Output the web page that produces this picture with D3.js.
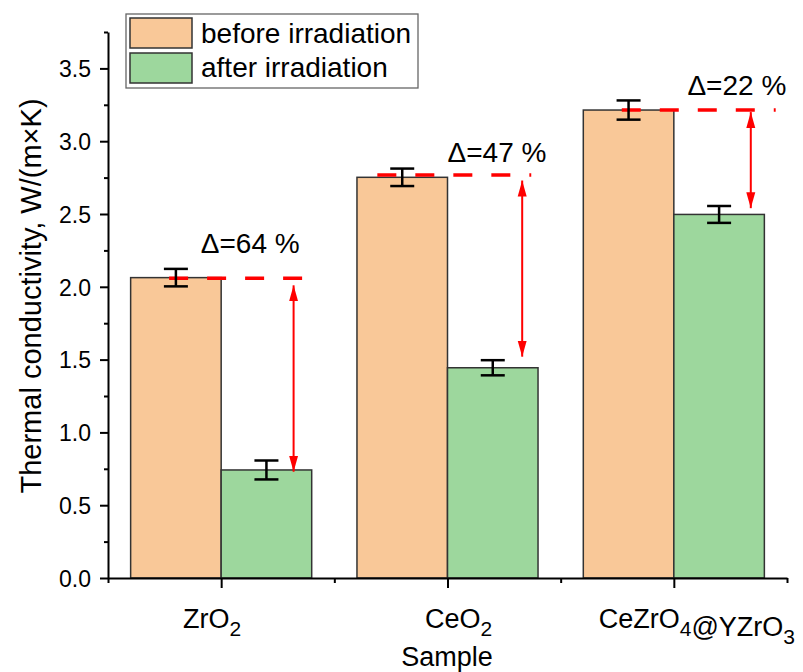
<!DOCTYPE html>
<html>
<head>
<meta charset="utf-8">
<script src="https://cdn.jsdelivr.net/npm/d3@7"></script>
<style>
body { margin: 0; background: #fff; }
svg text { font-family: "Liberation Sans", Arial, sans-serif; fill: #000; }
</style>
</head>
<body>
<svg id="chart" width="803" height="672"></svg>
<script>
// data
var categories = ['ZrO_2', 'CeO_2', 'CeZrO_4@YZrO_3'];
var seriesNames = ['before irradiation', 'after irradiation'];
var beforeValues = [2.063, 2.752, 3.214];
var beforeErrors = [0.060, 0.060, 0.066];
var afterValues = [0.742, 1.444, 2.497];
var afterErrors = [0.065, 0.052, 0.058];
var yTicks = [0, 0.5, 1, 1.5, 2, 2.5, 3, 3.5];
var deltaLabels = ['\u0394=64 %', '\u0394=47 %', '\u0394=22 %'];

// annotation guides (data units)
var dashLevel = [2.058, 2.768, 3.214];
var dashFrom = [0.77, 1.69, 2.77];
var dashTo = [1.44, 2.37, 3.45];
var arrowX = [1.32, 2.33, 3.34];
var arrowTop = [2.01, 2.73, 3.20];
var arrowBottom = [0.73, 1.52, 2.54];
var labelX = [0.91, 2.0, 3.06];
var labelY = [2.23, 2.86, 3.32];

var colors = ['#f9c898', '#9dd79d'];
var barHalf = 0.4;

var svg = d3.select('#chart');

var x = d3.scaleLinear().domain([0.5, 3.5]).range([108, 787]);
var y = d3.scaleLinear().domain([0, 3.75]).range([578, 32]);

var defs = svg.append('defs');
['arrowEnd', 'arrowStart'].forEach(function(id) {
    defs.append('marker')
        .attr('id', id)
        .attr('viewBox', '0 0 16 10')
        .attr('refX', 16)
        .attr('refY', 5)
        .attr('markerWidth', 16)
        .attr('markerHeight', 10)
        .attr('markerUnits', 'userSpaceOnUse')
        .attr('orient', id == 'arrowEnd' ? 'auto' : 'auto-start-reverse')
        .append('path')
        .attr('d', 'M0,0.5 L16,5 L0,9.5 Z')
        .attr('fill', '#f00');
});

// bars
var rows = categories.map(function(c, i) {
    return [
        { pos: i + 1 - barHalf, v: beforeValues[i], e: beforeErrors[i], s: 0 },
        { pos: i + 1, v: afterValues[i], e: afterErrors[i], s: 1 }
    ];
});
var flat = [].concat.apply([], rows);

svg.append('g').selectAll('rect')
    .data(flat)
    .enter()
    .append('rect')
    .attr('x', function(d) { return x(d.pos); })
    .attr('y', function(d) { return y(d.v); })
    .attr('width', function(d) { return x(d.pos + barHalf) - x(d.pos); })
    .attr('height', function(d) { return y(0) - y(d.v); })
    .attr('fill', function(d) { return colors[d.s]; })
    .attr('stroke', '#333')
    .attr('stroke-width', 1.5);

// dashed reference lines
svg.append('g').selectAll('line')
    .data(dashLevel)
    .enter()
    .append('line')
    .attr('x1', function(d, i) { return x(dashFrom[i]); })
    .attr('x2', function(d, i) { return x(dashTo[i]); })
    .attr('y1', function(d) { return y(d); })
    .attr('y2', function(d) { return y(d); })
    .attr('stroke', '#f00')
    .attr('stroke-width', 3.5)
    .attr('stroke-dasharray', '19,19');

// error bars
var eb = svg.append('g').attr('stroke', '#000').attr('stroke-width', 2.5);
flat.forEach(function(d) {
    var cx = x(d.pos + barHalf / 2);
    eb.append('line').attr('x1', cx).attr('x2', cx).attr('y1', y(d.v + d.e)).attr('y2', y(d.v - d.e));
    eb.append('line').attr('x1', cx - 12).attr('x2', cx + 12).attr('y1', y(d.v + d.e)).attr('y2', y(d.v + d.e));
    eb.append('line').attr('x1', cx - 12).attr('x2', cx + 12).attr('y1', y(d.v - d.e)).attr('y2', y(d.v - d.e));
});

// double arrows
svg.append('g').selectAll('line')
    .data(arrowX)
    .enter()
    .append('line')
    .attr('x1', function(d) { return x(d); })
    .attr('x2', function(d) { return x(d); })
    .attr('y1', function(d, i) { return y(arrowTop[i]); })
    .attr('y2', function(d, i) { return y(arrowBottom[i]); })
    .attr('stroke', '#f00')
    .attr('stroke-width', 2)
    .attr('marker-start', 'url(#arrowStart)')
    .attr('marker-end', 'url(#arrowEnd)');

// delta labels
svg.append('g').selectAll('text')
    .data(deltaLabels)
    .enter()
    .append('text')
    .attr('x', function(d, i) { return x(labelX[i]); })
    .attr('y', function(d, i) { return y(labelY[i]); })
    .style('font-size', '28px')
    .text(function(d) { return d; });

// axes
var gy = svg.append('g').attr('transform', 'translate(108,0)');
gy.call(d3.axisLeft(y).tickValues(yTicks).tickSize(8).tickSizeOuter(0).tickPadding(9)
    .tickFormat(d3.format('.1f')));
gy.append('g').call(d3.axisLeft(y).tickValues(d3.range(0.25, 3.8, 0.5)).tickSize(4).tickFormat(''))
    .select('.domain').remove();
gy.selectAll('text').style('font-size', '23px').attr('dy', '0.36em');

var gx = svg.append('g').attr('transform', 'translate(0,578)');
gx.call(d3.axisBottom(x).tickValues([1, 2, 3]).tickSize(10).tickSizeOuter(0).tickFormat(''));
gx.append('g').call(d3.axisBottom(x).tickValues([0.5, 1.5, 2.5, 3.5]).tickSize(5).tickFormat(''))
    .select('.domain').remove();

svg.selectAll('.domain, .tick line').attr('stroke', '#000').attr('stroke-width', 2);

// category labels with subscripts
var labelShift = [-9, 11, 23];
categories.forEach(function(c, i) {
    var t = svg.append('text')
        .attr('x', x(i + 1) + labelShift[i])
        .attr('y', 628)
        .attr('text-anchor', 'middle')
        .style('font-size', '27px');
    c.split(/_(\d)/).forEach(function(part, k) {
        if (!part) return;
        if (k % 2 == 1) {
            t.append('tspan').attr('dy', 8).style('font-size', '21px').text(part);
            t.append('tspan').attr('dy', -8).text('');
        } else {
            t.append('tspan').text(part);
        }
    });
});

// axis titles
svg.append('text')
    .attr('x', 447)
    .attr('y', 666)
    .attr('text-anchor', 'middle')
    .style('font-size', '27px')
    .text('Sample');

svg.append('text')
    .attr('transform', 'translate(41,296) rotate(-90)')
    .attr('text-anchor', 'middle')
    .style('font-size', '29px')
    .text('Thermal conductivity, W/(m\u00d7K)');

// legend
var legend = svg.append('g');
legend.append('rect')
    .attr('x', 126).attr('y', 14).attr('width', 292).attr('height', 74)
    .attr('fill', '#fff').attr('stroke', '#666').attr('stroke-width', 1.3);
seriesNames.forEach(function(name, i) {
    legend.append('rect')
        .attr('x', 130).attr('y', 18 + i * 35).attr('width', 62).attr('height', 30)
        .attr('fill', colors[i]).attr('stroke', '#333').attr('stroke-width', 1.5);
    legend.append('text')
        .attr('x', 201).attr('y', 43 + i * 34)
        .style('font-size', '28px')
        .text(name);
});
</script>
</body>
</html>
